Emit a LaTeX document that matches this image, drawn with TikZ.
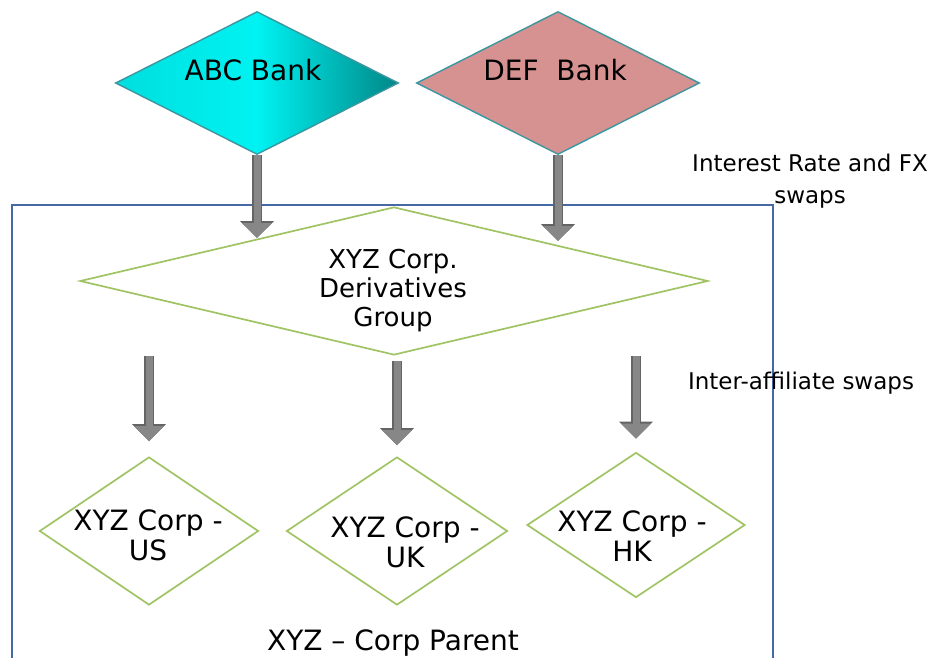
\documentclass[tikz,border=0pt]{standalone}
\usepackage{fontspec}
\setmainfont{DejaVu Sans}
\usetikzlibrary{shapes.geometric, arrows.meta}
\definecolor{bankedge}{RGB}{60,150,160}
\definecolor{defpink}{RGB}{214,146,145}
\definecolor{cyanlight}{RGB}{0,222,222}
\definecolor{cyanmid}{RGB}{0,242,242}
\definecolor{cyandark}{RGB}{0,135,135}
\definecolor{unitgreen}{RGB}{160,195,100}
\definecolor{boxblue}{RGB}{70,105,165}
\definecolor{arrowgray}{RGB}{135,135,135}
\definecolor{arrowdark}{RGB}{100,100,100}
\tikzset{
    bank/.style={diamond, draw=bankedge, line width=1.4pt, inner sep=0pt,
        minimum width=283pt, minimum height=143pt},
    unit/.style={diamond, draw=unitgreen, line width=1.7pt, inner sep=0pt},
    bigarrow/.style={line width=7pt, draw=arrowgray, fill=arrowgray,
        -{Triangle[width=29pt,length=15pt]},
        preaction={draw=arrowdark, fill=arrowdark, line width=10pt,
            -{Triangle[width=33pt,length=17pt]}}},
    lbl/.style={font=\fontsize{28}{30}\selectfont, align=center},
    note/.style={font=\fontsize{23}{32}\selectfont, align=center},
}

\begin{document}
\begin{tikzpicture}[x=1pt, y=-1pt]
\useasboundingbox (0,0) rectangle (932,657);
% parent frame
\draw[boxblue, line width=1.4pt] (12,680) -- (12,205) -- (773,205) -- (773,680);
\node[lbl] (parentlbl) at (393,643) {XYZ – Corp Parent};
% banks
\node[bank, left color=cyanlight, right color=cyandark, middle color=cyanmid] (abc) at (257,83) {};
\node[bank, fill=defpink] (def) at (558,83) {};
\node[lbl] (abclbl) at (253,70) {ABC Bank};
\node[lbl] (deflbl) at (555,70) {DEF~~Bank};
% derivatives group
\node[unit, minimum width=628pt, minimum height=148pt] (deriv) at (394,281) {};
\node[lbl, font=\fontsize{26}{29}\selectfont] (derivlbl) at (393,291) {XYZ Corp.\\Derivatives\\Group};
% affiliates
\node[unit, minimum width=219pt, minimum height=148pt] (us) at (149,531) {};
\node[unit, minimum width=221pt, minimum height=148pt] (uk) at (397,531) {};
\node[unit, minimum width=218pt, minimum height=145pt] (hk) at (636,525) {};
\node[lbl] (uslbl) at (148,535) {XYZ Corp -\\US};
\node[lbl] (uklbl) at (405,542) {XYZ Corp -\\UK};
\node[lbl] (hklbl) at (632,536) {XYZ Corp -\\HK};
% arrows
\coordinate (abcin) at (257,238);
\coordinate (defin) at (558,241);
\draw[bigarrow] (abc.south) -- (abcin);
\draw[bigarrow] (def.south) -- (defin);
\draw[bigarrow] (us.north |- deriv.south) -- ([yshift=15pt]us.north);
\draw[bigarrow] ([yshift=-5pt]uk.north |- deriv.south) -- ([yshift=11pt]uk.north);
\draw[bigarrow] (hk.north |- deriv.south) -- ([yshift=13pt]hk.north);
% notes
\node[note] (irfx) at (810,181) {Interest Rate and FX\\swaps};
\node[note] (interaff) at (801,383) {Inter-affiliate swaps};
\end{tikzpicture}
\end{document}
